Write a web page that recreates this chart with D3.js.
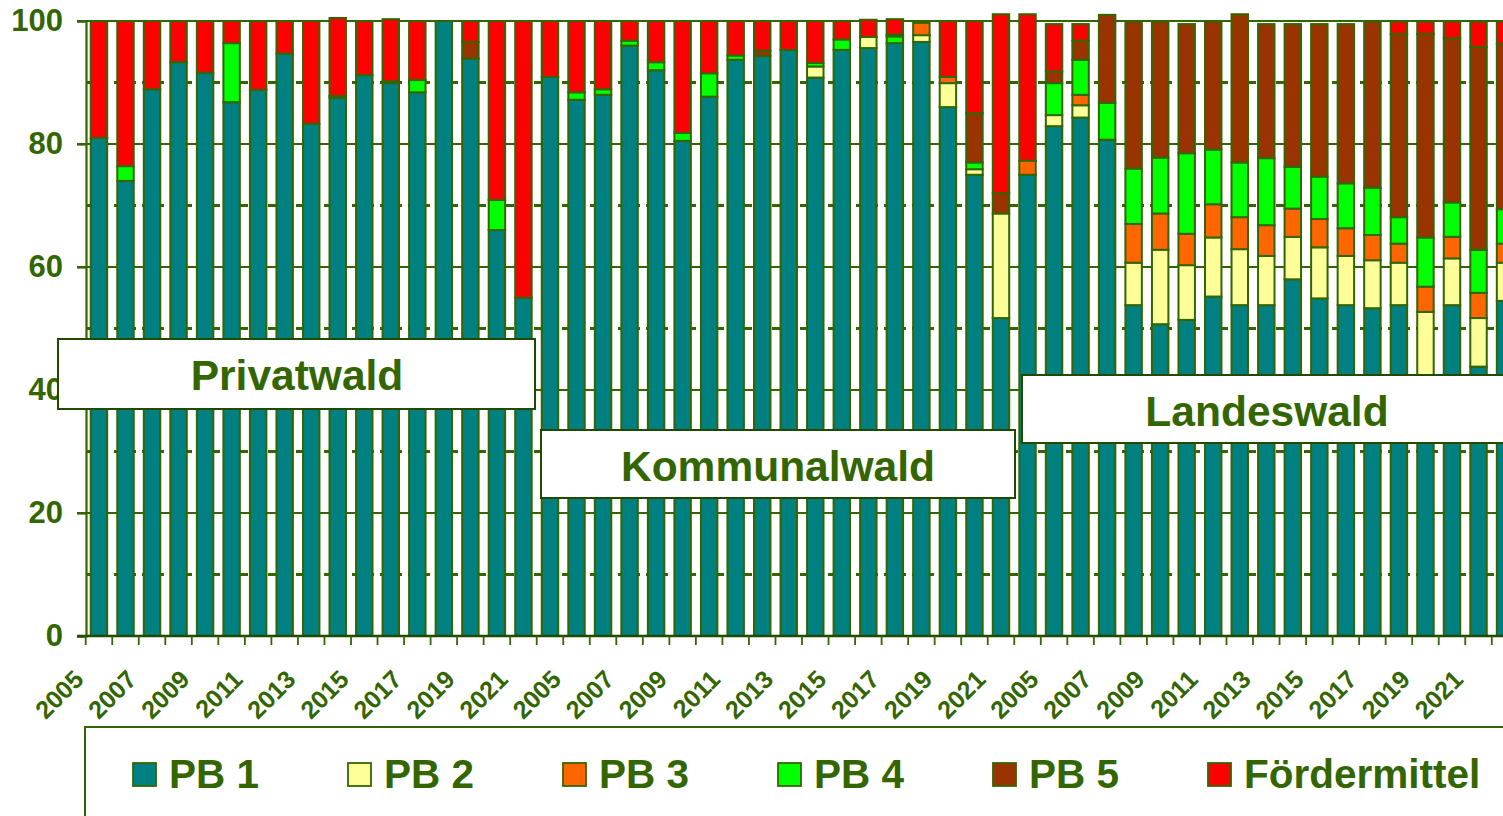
<!DOCTYPE html>
<html>
<head>
<meta charset="utf-8">
<script src="https://cdn.jsdelivr.net/npm/d3@7"></script>
<style>
  body { margin: 0; background: #fff; }
  svg { display: block; font-family: "Liberation Sans", Arial, sans-serif; }
  .lbl { fill: #336600; font-weight: bold; }
</style>
</head>
<body>
<div id="chart"></div>
<script>
// categories
const groups = ["Privatwald", "Kommunalwald", "Landeswald"];
const years = [2005, 2006, 2007, 2008, 2009, 2010, 2011, 2012, 2013,
               2014, 2015, 2016, 2017, 2018, 2019, 2020, 2021, 2022];
const seriesNames = ["PB 1", "PB 2", "PB 3", "PB 4", "PB 5", "Fördermittel"];
const seriesColors = ["#008080", "#ffff99", "#ff6600", "#00ff00", "#993300", "#ff0000"];
const yTicks = [0, 20, 40, 60, 80, 100];
const yDashed = [10, 30, 50, 70, 90];

// values in %, one array per series, order: Privatwald, Kommunalwald, Landeswald (2005-2022 each)
const pb1 = [
  81, 74, 88.9, 93.3, 91.6, 86.8, 88.8, 94.7, 83.3, 87.5, 91.2, 89.9, 88.4, 100, 93.9, 66, 55, 90.9,
  87.2, 88.0, 96.0, 92.0, 80.5, 87.7, 93.7, 94.3, 95.3, 90.8, 95.3, 95.6, 96.4, 96.6, 86.0, 75.0, 51.7, 75.0,
  82.9, 84.3, 80.7, 53.8, 50.7, 51.4, 55.2, 53.8, 53.8, 58.0, 54.9, 53.8, 53.3, 53.8, 38.0, 53.8, 43.8, 54.5
];
const pb2 = [
  0, 0, 0, 0, 0, 0, 0, 0, 0, 0, 0, 0, 0, 0, 0, 0, 0, 0,
  0, 0, 0, 0, 0, 0, 0, 0, 0, 1.8, 0, 1.8, 0, 1.1, 3.9, 0.9, 17.0, 0,
  1.8, 2.0, 0, 6.9, 12.1, 8.9, 9.6, 9.1, 8.0, 6.9, 8.3, 8.0, 7.8, 6.9, 14.7, 7.6, 7.9, 6.2
];
const pb3 = [
  0, 0, 0, 0, 0, 0, 0, 0, 0, 0, 0, 0, 0, 0, 0, 0, 0, 0,
  0, 0, 0, 0, 0, 0, 0, 0, 0, 0, 0, 0, 0, 2.0, 1.0, 0, 0, 2.3,
  0, 1.7, 0, 6.3, 5.9, 5.1, 5.4, 5.2, 5.0, 4.6, 4.6, 4.5, 4.1, 3.1, 4.1, 3.5, 4.1, 3.1
];
const pb4 = [
  0, 2.4, 0, 0, 0, 9.6, 0, 0, 0, 0, 0, 0, 2.0, 0, 0, 4.9, 0, 0,
  1.2, 0.9, 0.8, 1.3, 1.3, 3.8, 0.7, 0, 0, 0.6, 1.7, 0, 1.1, 0, 0, 1.1, 0, 0,
  5.2, 5.7, 6.0, 9.0, 9.1, 13.1, 8.9, 8.9, 10.9, 6.8, 6.9, 7.3, 7.7, 4.3, 8.0, 5.6, 7.0, 5.6
];
const pb5 = [
  0, 0, 0, 0, 0, 0, 0, 0, 0, 0.3, 0, 0.3, 0, 0, 2.7, 0, 0, 0,
  0, 0, 0, 0, 0, 0, 0, 0.9, 0, 0, 0, 0, 0.3, 0, 0, 8.0, 3.3, 0,
  1.9, 3.1, 14.3, 23.9, 22.1, 21.0, 20.8, 24.1, 21.8, 23.2, 24.8, 25.9, 27.0, 29.8, 33.1, 26.7, 33.0, 26.9
];
const foerder = [
  19, 23.6, 11.1, 6.7, 8.4, 3.6, 11.2, 5.3, 16.7, 12.7, 8.8, 10.1, 9.6, 0, 3.4, 29.1, 45, 9.1,
  11.6, 11.1, 3.2, 6.7, 18.2, 8.5, 5.6, 4.8, 4.7, 6.8, 3.0, 2.8, 2.5, 0, 9.1, 15.0, 29.1, 23.8,
  7.7, 2.7, 0, 0, 0, 0, 0, 0, 0, 0, 0, 0, 0, 2.0, 2.0, 2.7, 4.1, 3.6
];

const W = 1503, H = 816;
const textColor = "#336600";

// table for the stack
const keys = [];
const rows = [];
groups.forEach((g, gi) => {
  years.forEach((yr, yi) => {
    const i = gi * years.length + yi;
    const k = g + "|" + yr;
    keys.push(k);
    rows.push({ key: k, year: yr, s0: pb1[i], s1: pb2[i], s2: pb3[i], s3: pb4[i], s4: pb5[i], s5: foerder[i] });
  });
});

const svg = d3.select("#chart").append("svg").attr("width", W).attr("height", H);
svg.append("rect").attr("width", W).attr("height", H).attr("fill", "#fff");

const x = d3.scaleBand().domain(keys).range([85.7, 85.7 + 26.53 * keys.length])
  .paddingInner(0.38).paddingOuter(0.19);
const y = d3.scaleLinear().domain([0, 100]).range([636, 21]);

// grid lines
svg.append("g").selectAll("line").data(yTicks.filter(d => d > 0)).join("line")
  .attr("x1", 77).attr("x2", W).attr("y1", d => y(d)).attr("y2", d => y(d))
  .attr("stroke", textColor).attr("stroke-width", 2.2);
svg.append("g").selectAll("line").data(yDashed).join("line")
  .attr("x1", 86).attr("x2", W).attr("y1", d => y(d)).attr("y2", d => y(d))
  .attr("stroke", textColor).attr("stroke-width", 3).attr("stroke-dasharray", "8,6");

// stacked bars
const stack = d3.stack().keys(["s0", "s1", "s2", "s3", "s4", "s5"]);
const layers = stack(rows);
svg.append("g").selectAll("g").data(layers).join("g")
  .attr("fill", (d, i) => seriesColors[i])
  .selectAll("rect").data(d => d.filter(p => p[1] - p[0] > 0)).join("rect")
  .attr("x", d => x(d.data.key))
  .attr("width", x.bandwidth())
  .attr("y", d => y(d[1]))
  .attr("height", d => y(d[0]) - y(d[1]))
  .attr("stroke", textColor).attr("stroke-width", 2);

// y axis
const yAxis = svg.append("g").attr("transform", "translate(86,0)")
  .call(d3.axisLeft(y).tickValues(yTicks).tickSize(9).tickPadding(14));
yAxis.select(".domain").attr("stroke", textColor).attr("stroke-width", 2.2);
yAxis.selectAll(".tick line").attr("stroke", textColor).attr("stroke-width", 2.2);
yAxis.selectAll(".tick text").attr("class", "lbl").style("font-size", "31px")
  .attr("fill", textColor);

// x axis baseline and ticks between bars
const step = x.step();
svg.append("line").attr("x1", 77).attr("x2", W).attr("y1", y(0)).attr("y2", y(0))
  .attr("stroke", "#1f4a00").attr("stroke-width", 2.4);
svg.append("g").selectAll("line").data(keys).join("line")
  .attr("x1", d => x(d) - step * x.paddingInner() / 2)
  .attr("x2", d => x(d) - step * x.paddingInner() / 2)
  .attr("y1", y(0)).attr("y2", y(0) + 9)
  .attr("stroke", textColor).attr("stroke-width", 1.8);

svg.append("g").selectAll("text").data(rows.filter(r => (r.year - 2005) % 2 === 0)).join("text")
  .attr("class", "lbl")
  .attr("transform", d => `translate(${x(d.key) + x.bandwidth() / 2 - 14},681) rotate(-45)`)
  .attr("text-anchor", "end")
  .style("font-size", "25px")
  .text(d => d.year);

// group label boxes
const boxes = [
  { name: groups[0], x0: 58, x1: 535, y0: 339, y1: 409, tx: 297 },
  { name: groups[1], x0: 541, x1: 1015, y0: 430, y1: 498, tx: 778 },
  { name: groups[2], x0: 1022, x1: 1520, y0: 375, y1: 443, tx: 1267 }
];
const bg = svg.append("g").selectAll("g").data(boxes).join("g");
bg.append("rect")
  .attr("x", d => d.x0).attr("y", d => d.y0)
  .attr("width", d => d.x1 - d.x0).attr("height", d => d.y1 - d.y0)
  .attr("fill", "#fff").attr("stroke", "#1f4a00").attr("stroke-width", 2);
bg.append("text").attr("class", "lbl")
  .attr("x", d => d.tx)
  .attr("y", d => d.y0 + 51)
  .attr("text-anchor", "middle")
  .style("font-size", "42.5px")
  .text(d => d.name);

// legend
svg.append("rect").attr("x", 85).attr("y", 727).attr("width", 1440).attr("height", 120)
  .attr("fill", "#fff").attr("stroke", textColor).attr("stroke-width", 2);
const lg = svg.append("g").selectAll("g").data(seriesNames).join("g")
  .attr("transform", (d, i) => `translate(${133 + i * 215},763)`);
lg.append("rect").attr("width", 23).attr("height", 23)
  .attr("fill", (d, i) => seriesColors[i]).attr("stroke", textColor).attr("stroke-width", 1.8);
lg.append("text").attr("class", "lbl").attr("x", 36).attr("y", 25)
  .style("font-size", "40.5px").text(d => d);
</script>
</body>
</html>
